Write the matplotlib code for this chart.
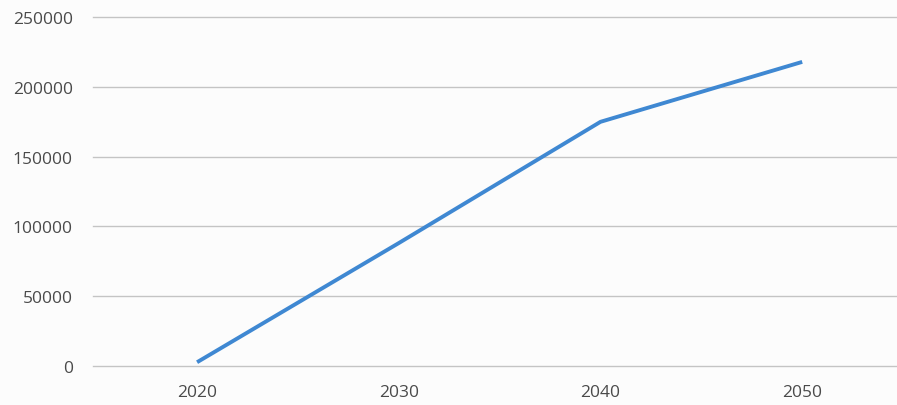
import matplotlib
matplotlib.use("Agg")
import matplotlib.pyplot as plt

years = [2020, 2030, 2040, 2050]
values = [2500, 88000, 175000, 218000]
y_ticks = [0, 50000, 100000, 150000, 200000, 250000]

W, H = 897, 406
fig = plt.figure(figsize=(W / 100, H / 100), dpi=100)
fig.patch.set_facecolor("#fcfcfc")

left = 93 / W
bottom = (H - 366.7) / H
top = (H - 18.3) / H
ax = fig.add_axes([left, bottom, 1.0 - left, top - bottom])
ax.set_facecolor("#fcfcfc")

ax.plot(years, values, color="#3f88d2", linewidth=2.8, solid_capstyle="butt", zorder=3)

ax.set_ylim(0, 250000)
ax.set_xlim(2014.84, 2054.7)
ax.set_yticks(y_ticks)
ax.set_yticklabels([str(v) for v in y_ticks])
ax.set_xticks(years)
ax.set_xticklabels([str(y) for y in years])

ax.grid(axis="y", color="#c4c4c4", linewidth=1.0)
for gl in ax.get_ygridlines():
    gl.set_clip_on(False)
ax.set_axisbelow(True)
for s in ax.spines.values():
    s.set_visible(False)
ax.tick_params(axis="both", length=0, colors="#4a4a4a", labelsize=12.5)
ax.tick_params(axis="y", pad=14.5)
ax.tick_params(axis="x", pad=13)
for lab in ax.get_xticklabels() + ax.get_yticklabels():
    lab.set_fontfamily("Open Sans")

fig.savefig("out.png", dpi=100, facecolor=fig.get_facecolor())
